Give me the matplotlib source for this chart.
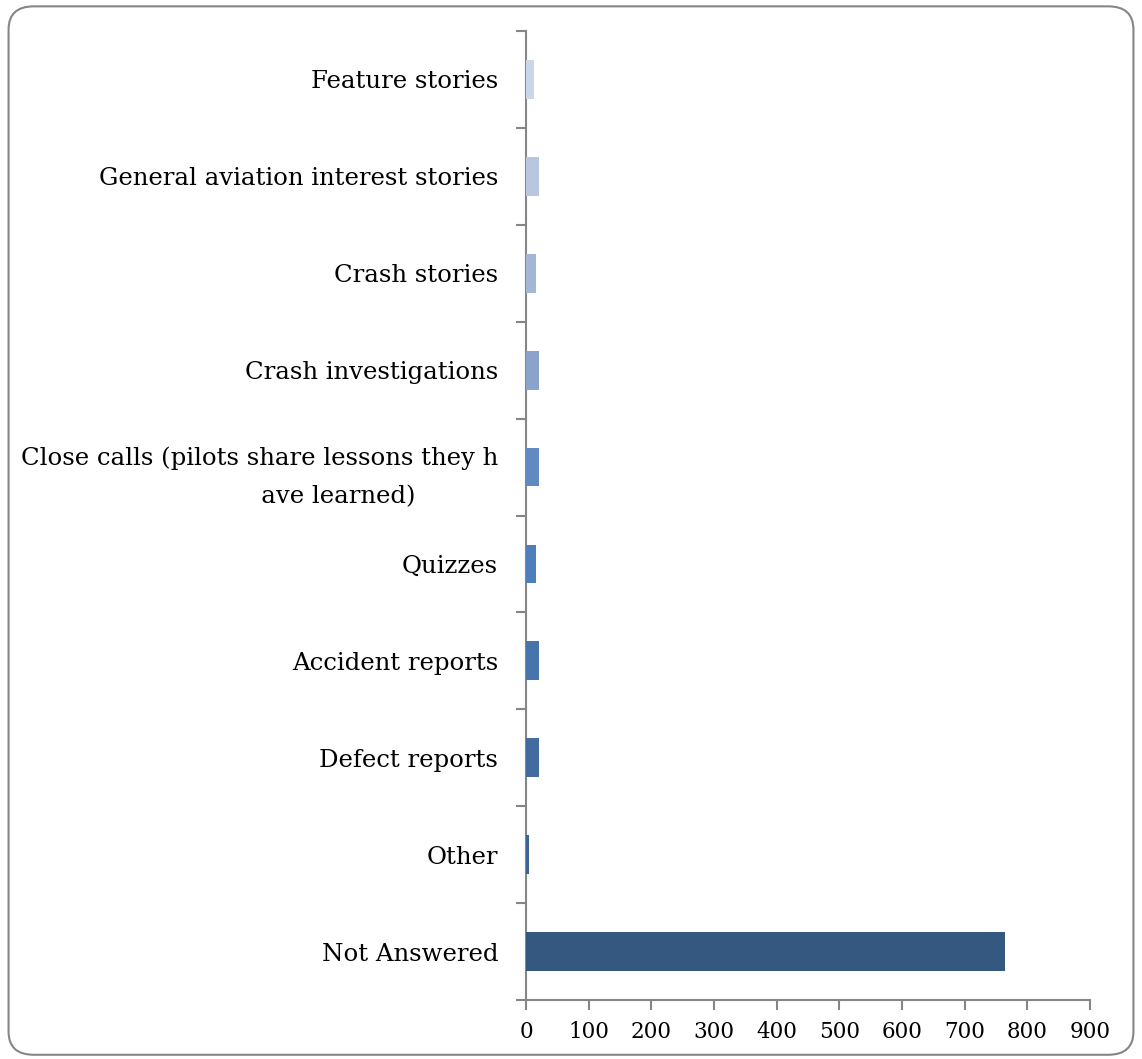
import matplotlib
matplotlib.use("Agg")
import matplotlib.pyplot as plt
from matplotlib.patches import FancyBboxPatch
import numpy as np

categories = ["Feature stories", "General aviation interest stories", "Crash stories",
              "Crash investigations", "Close calls (pilots share lessons they h\nave learned)",
              "Quizzes", "Accident reports", "Defect reports", "Other", "Not Answered"]
values = [13, 21, 16, 21, 21, 16, 21, 20, 5, 764]
colors = ["#CDD6E8", "#B9C6E0", "#A3B6D8", "#8BA3CB", "#6189C2",
          "#4F7FBA", "#4874AC", "#426C9F", "#3D6498", "#34587F"]
xticks = [0, 100, 200, 300, 400, 500, 600, 700, 800, 900]

plt.rcParams['font.family'] = ['DejaVu Serif']
fig = plt.figure(figsize=(11.42, 10.59), dpi=100)
ax = fig.add_axes([0.4606, 0.0557, 0.4939, 0.915])

n = len(categories)
ypos = np.arange(n)
ax.barh(ypos, values, height=0.4, color=colors, zorder=3)
ax.set_ylim(n - 0.5, -0.5)
ax.set_xlim(0, 900)
ax.set_xticks(xticks)
ax.set_xticklabels([str(t) for t in xticks], fontsize=15.5)
ax.set_yticks(ypos)
labels = [c.replace("\n", "\n" + " " * 31) for c in categories]
ax.set_yticklabels(labels, fontsize=17.6, multialignment='left', linespacing=1.85)
ax.set_yticks(np.arange(n + 1) - 0.5, minor=True)
ax.tick_params(axis='y', which='major', length=0, pad=20)
ax.tick_params(axis='y', which='minor', length=7, width=1.5, color='#868686', direction='out')
ax.tick_params(axis='x', length=7, width=1.5, color='#868686', direction='out', pad=8)
for s in ['top', 'right']:
    ax.spines[s].set_visible(False)
for s in ['left', 'bottom']:
    ax.spines[s].set_color('#868686')
    ax.spines[s].set_linewidth(1.5)

border = FancyBboxPatch((0.0075, 0.004), 0.985, 0.99, boxstyle="round,pad=0,rounding_size=0.022",
                        transform=fig.transFigure, facecolor='none', edgecolor='#868686', linewidth=1.5)
fig.patches.append(border)

fig.savefig("out.png", dpi=100)
